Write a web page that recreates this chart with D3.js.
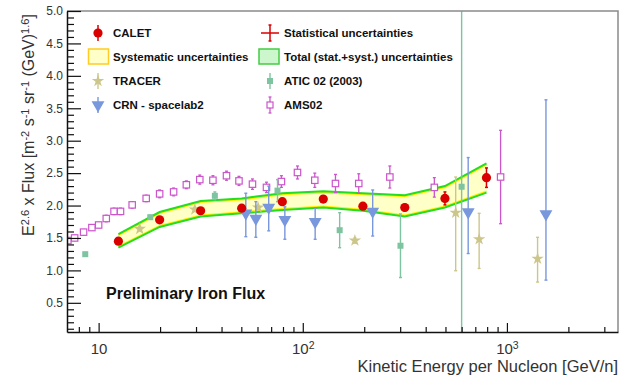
<!DOCTYPE html>
<html><head><meta charset="utf-8">
<script src="https://cdn.jsdelivr.net/npm/d3@7"></script>
<style>
body{margin:0;background:#fff;}
svg{display:block;font-family:"Liberation Sans",Arial,Helvetica,sans-serif;}
</style></head><body>
<svg id="chart" width="630" height="376"></svg>
<script>
// E^2.6 x Flux for iron, kinetic energy per nucleon in GeV/n

// CALET
const caletE  = [12.5, 19.9, 31.6, 50.2, 79.4, 126, 197, 316, 497, 794];
const caletF  = [1.45, 1.78, 1.92, 1.96, 2.06, 2.10, 1.99, 1.97, 2.11, 2.43];
const caletLo = [1.43, 1.76, 1.90, 1.93, 2.03, 2.06, 1.95, 1.92, 2.01, 2.28];
const caletHi = [1.47, 1.80, 1.94, 1.99, 2.09, 2.14, 2.03, 2.02, 2.21, 2.58];

// CALET uncertainty bands (total and systematic)
const totUp = [1.56, 1.90, 2.07, 2.11, 2.19, 2.22, 2.19, 2.16, 2.30, 2.65];
const totLo = [1.35, 1.67, 1.83, 1.88, 1.93, 1.97, 1.92, 1.83, 1.97, 2.20];
const sysUp = [1.54, 1.88, 2.05, 2.09, 2.17, 2.20, 2.17, 2.14, 2.28, 2.63];
const sysLo = [1.37, 1.69, 1.85, 1.90, 1.95, 1.99, 1.94, 1.85, 1.99, 2.22];

// AMS02
const amsE  = [7.07, 7.63, 8.44, 9.27, 10.0, 10.9, 11.9, 12.8, 14.6, 17.1, 19.9, 23.3, 26.9, 31.3,
               36.3, 42.3, 48.7, 56.7, 66.4, 78.6, 94.2, 114.5, 144.6, 188, 267, 441, 931];
const amsF  = [1.46, 1.50, 1.59, 1.66, 1.70, 1.80, 1.91, 1.91, 2.01, 2.11, 2.18, 2.21, 2.32, 2.40,
               2.39, 2.46, 2.38, 2.33, 2.28, 2.37, 2.51, 2.39, 2.34, 2.34, 2.44, 2.28, 2.44];
const amsErr = [0.04, 0.04, 0.04, 0.04, 0.04, 0.05, 0.05, 0.05, 0.05, 0.05, 0.06, 0.06, 0.06, 0.07,
                0.07, 0.07, 0.07, 0.08, 0.08, 0.09, 0.10, 0.11, 0.14, 0.15, 0.17, 0.15, 0.72];

// ATIC 02 (2003)
const aticE  = [8.6, 17.9, 37.1, 75.2, 151.6, 301, 600];
const aticF  = [1.25, 1.82, 2.15, 2.23, 1.62, 1.38, 2.29];
const aticLo = [1.23, 1.79, 2.09, 2.06, 1.35, 0.89, -5];
const aticHi = [1.27, 1.85, 2.21, 2.40, 1.89, 1.87, 9];

// TRACER
const tracerE  = [15.9, 29.6, 60.4, 180, 561, 731, 1413];
const tracerF  = [1.64, 1.94, 1.97, 1.46, 1.89, 1.48, 1.18];
const tracerLo = [1.61, 1.91, 1.94, 1.42, 0.995, 1.03, 0.82];
const tracerHi = [1.67, 1.97, 2.00, 1.50, 2.44, 1.88, 1.51];

// CRN - spacelab2
const crnE  = [52.6, 58.9, 68.1, 81.7, 115, 220, 646, 1553];
const crnF  = [1.88, 1.80, 1.97, 1.78, 1.75, 1.91, 1.90, 1.87];
const crnLo = [1.52, 1.51, 1.61, 1.48, 1.48, 1.53, 1.26, 0.85];
const crnHi = [2.19, 2.06, 2.30, 1.98, 1.96, 2.24, 2.74, 3.63];

// Axis ticks
const xMajor = [10, 100, 1000];
const xMinor = [8, 9, 20, 30, 40, 50, 60, 70, 80, 90, 200, 300, 400, 500, 600, 700, 800, 900, 2000, 3000];
const yMajor = [0.5, 1.0, 1.5, 2.0, 2.5, 3.0, 3.5, 4.0, 4.5, 5.0];
const yMinor = d3.range(1, 50).map(i => i / 10).filter(v => Math.round(v * 10) % 5 !== 0);

const C = {
  calet: "#d80000", sysFill: "#ffffc8", sysLine: "#ffee00", totLine: "#22dd22", totFill: "#ccf7cc",
  ams: "#cc55cc", atic: "#7fc4a0", tracer: "#cdc68a", crn: "#7897dc", text: "#222", tick: "#333"
};

const svg = d3.select("#chart");
const L = 67, R = 618, T = 11, B = 332;
const x = d3.scaleLog().domain([7, 3500]).range([L, R]);
const y = d3.scaleLinear().domain([0.05, 5.0]).range([B, T]);

svg.append("defs").append("clipPath").attr("id", "plotclip")
  .append("rect").attr("x", L).attr("y", T).attr("width", R - L).attr("height", B - T);
const plot = svg.append("g").attr("clip-path", "url(#plotclip)");

// Bands
const bandArea = (up, lo) => d3.area().x((d, i) => x(caletE[i])).y0((d, i) => y(lo[i])).y1((d, i) => y(up[i]));
const bandLine = arr => d3.line().x((d, i) => x(caletE[i])).y((d, i) => y(arr[i]));
plot.append("path").attr("d", bandArea(totUp, totLo)(caletE)).attr("fill", C.totFill);
plot.append("path").attr("d", bandArea(sysUp, sysLo)(caletE)).attr("fill", C.sysFill);
[sysUp, sysLo].forEach(a => plot.append("path").attr("d", bandLine(a)(caletE))
  .attr("fill", "none").attr("stroke", C.sysLine).attr("stroke-width", 1.6));
[totUp, totLo].forEach(a => plot.append("path").attr("d", bandLine(a)(caletE))
  .attr("fill", "none").attr("stroke", C.totLine).attr("stroke-width", 2));

// Error bars with small end caps
function errBars(g, E, lo, hi, color, cap, w) {
  E.forEach((e, i) => {
    const cx = x(e);
    g.append("line").attr("x1", cx).attr("x2", cx).attr("y1", y(lo[i])).attr("y2", y(hi[i]))
      .attr("stroke", color).attr("stroke-width", w);
    [lo[i], hi[i]].forEach(v => g.append("line").attr("x1", cx - cap).attr("x2", cx + cap)
      .attr("y1", y(v)).attr("y2", y(v)).attr("stroke", color).attr("stroke-width", w));
  });
}

const star = d3.symbol().type(d3.symbolStar).size(48);
const tri = d3.symbol().type(d3.symbolTriangle).size(72);

// AMS02
errBars(plot, amsE, amsE.map((e, i) => amsF[i] - amsErr[i]), amsE.map((e, i) => amsF[i] + amsErr[i]), C.ams, 1.5, 1.3);
amsE.forEach((e, i) => plot.append("rect").attr("x", x(e) - 3.2).attr("y", y(amsF[i]) - 3.2)
  .attr("width", 6.4).attr("height", 6.4).attr("fill", "#fff").attr("stroke", C.ams).attr("stroke-width", 1.2));

// TRACER
errBars(plot, tracerE, tracerLo, tracerHi, C.tracer, 1.5, 1.4);
tracerE.forEach((e, i) => plot.append("path").attr("d", star())
  .attr("transform", `translate(${x(e)},${y(tracerF[i])})`).attr("fill", C.tracer));

// CRN
errBars(plot, crnE, crnLo, crnHi, C.crn, 1.5, 1.4);
crnE.forEach((e, i) => plot.append("path").attr("d", tri())
  .attr("transform", `translate(${x(e)},${y(crnF[i])}) rotate(180)`).attr("fill", C.crn));

// ATIC
errBars(plot, aticE, aticLo, aticHi, C.atic, 1.5, 1.4);
aticE.forEach((e, i) => plot.append("rect").attr("x", x(e) - 3).attr("y", y(aticF[i]) - 3)
  .attr("width", 6).attr("height", 6).attr("fill", C.atic));

// CALET
errBars(plot, caletE, caletLo, caletHi, C.calet, 1.5, 1.5);
caletE.forEach((e, i) => plot.append("circle").attr("cx", x(e)).attr("cy", y(caletF[i]))
  .attr("r", 4.6).attr("fill", C.calet));

// Frame
svg.append("path").attr("d", `M${L},${T}H${R}V${B}`).attr("fill", "none")
  .attr("stroke", "#8a8a8a").attr("stroke-width", 1.5);

// Y axis
const yAx = svg.append("g").attr("transform", `translate(${L},0)`)
  .call(d3.axisLeft(y).tickValues(yMajor).tickFormat(d3.format(".1f")).tickSizeInner(-14).tickSizeOuter(0).tickPadding(4));
svg.append("g").attr("transform", `translate(${L},0)`)
  .call(d3.axisLeft(y).tickValues(yMinor).tickFormat("").tickSizeInner(-7).tickSizeOuter(0))
  .call(g => g.select(".domain").remove());

// X axis
const xAx = svg.append("g").attr("transform", `translate(0,${B})`)
  .call(d3.axisBottom(x).tickValues(xMajor).tickFormat(() => "10").tickSizeInner(-9).tickSizeOuter(0).tickPadding(11.5));
svg.append("g").attr("transform", `translate(0,${B})`)
  .call(d3.axisBottom(x).tickValues(xMinor).tickFormat("").tickSizeInner(-5).tickSizeOuter(0))
  .call(g => g.select(".domain").remove());

svg.selectAll(".tick line").attr("stroke", "#111").attr("stroke-width", 1.2);
svg.selectAll(".domain").attr("stroke", "#111").attr("stroke-width", 1.5);
yAx.selectAll("text").attr("font-size", 12).attr("fill", C.tick).attr("font-family", null);
xAx.selectAll("text").attr("font-size", 15).attr("fill", C.tick).attr("font-family", null)
  .each(function (d) {
    const exp = Math.round(Math.log10(d));
    if (exp > 1) d3.select(this).append("tspan").attr("dy", "-0.45em").attr("font-size", 10.5).text(exp);
  });

// Axis titles
svg.append("text").attr("x", R).attr("y", 372).attr("text-anchor", "end")
  .attr("font-size", 16.5).attr("fill", C.tick).text("Kinetic Energy per Nucleon [GeV/n]");

const yt = svg.append("text").attr("transform", "translate(34,125) rotate(-90)")
  .attr("text-anchor", "middle").attr("font-size", 16).attr("fill", C.tick);
const parts = [["E", 0], ["2.6", 1], [" x Flux [m", 0], ["-2", 1], [" s", 0], ["-1", 1],
               [" sr", 0], ["-1", 1], [" (GeV)", 0], ["1.6", 1], ["]", 0]];
parts.forEach(([t, sup], i) => {
  const prev = i > 0 ? parts[i - 1][1] : 0;
  const sp = yt.append("tspan").text(t);
  if (sup) sp.attr("dy", "-0.45em").attr("font-size", 11);
  else if (prev) sp.attr("dy", "0.31em");
});

// Legend
const lg = svg.append("g").attr("font-size", 11.5).attr("font-weight", "bold").attr("fill", "#111");
const rows = [33, 57, 81, 105];
const lx = 98, rx = 270, ltx = 113, rtx = 284;
// CALET
lg.append("line").attr("x1", lx).attr("x2", lx).attr("y1", rows[0] - 8).attr("y2", rows[0] + 8).attr("stroke", C.calet).attr("stroke-width", 1.5);
lg.append("circle").attr("cx", lx).attr("cy", rows[0]).attr("r", 4.6).attr("fill", C.calet);
lg.append("text").attr("x", ltx).attr("y", rows[0] + 4).text("CALET");
// Statistical uncertainties
lg.append("line").attr("x1", rx - 9).attr("x2", rx + 9).attr("y1", rows[0]).attr("y2", rows[0]).attr("stroke", C.calet).attr("stroke-width", 1.5);
lg.append("line").attr("x1", rx).attr("x2", rx).attr("y1", rows[0] - 8).attr("y2", rows[0] + 8).attr("stroke", C.calet).attr("stroke-width", 1.5);
[rows[0] - 8, rows[0] + 8].forEach(v => lg.append("line").attr("x1", rx - 1.5).attr("x2", rx + 1.5).attr("y1", v).attr("y2", v).attr("stroke", C.calet).attr("stroke-width", 1.5));
lg.append("text").attr("x", rtx).attr("y", rows[0] + 4).text("Statistical uncertainties");
// Systematic
lg.append("rect").attr("x", 88.5).attr("y", rows[1] - 8).attr("width", 20).attr("height", 15)
  .attr("fill", C.sysFill).attr("stroke", "#ffcc22").attr("stroke-width", 1.5);
lg.append("text").attr("x", ltx).attr("y", rows[1] + 4).text("Systematic uncertainties");
// Total
lg.append("rect").attr("x", 259).attr("y", rows[1] - 8).attr("width", 20).attr("height", 15)
  .attr("fill", C.totFill).attr("stroke", "#44cc44").attr("stroke-width", 1.5);
lg.append("text").attr("x", rtx).attr("y", rows[1] + 4).text("Total (stat.+syst.) uncertainties");
// TRACER
lg.append("line").attr("x1", lx).attr("x2", lx).attr("y1", rows[2] - 8).attr("y2", rows[2] + 8).attr("stroke", C.tracer).attr("stroke-width", 1.4);
lg.append("path").attr("d", star()).attr("transform", `translate(${lx},${rows[2]})`).attr("fill", C.tracer);
lg.append("text").attr("x", ltx).attr("y", rows[2] + 4).text("TRACER");
// ATIC
lg.append("line").attr("x1", rx).attr("x2", rx).attr("y1", rows[2] - 8).attr("y2", rows[2] + 8).attr("stroke", C.atic).attr("stroke-width", 1.4);
lg.append("rect").attr("x", rx - 3).attr("y", rows[2] - 3).attr("width", 6).attr("height", 6).attr("fill", C.atic);
lg.append("text").attr("x", rtx).attr("y", rows[2] + 4).text("ATIC 02 (2003)");
// CRN
lg.append("line").attr("x1", lx).attr("x2", lx).attr("y1", rows[3] - 8).attr("y2", rows[3] + 8).attr("stroke", C.crn).attr("stroke-width", 1.4);
lg.append("path").attr("d", tri()).attr("transform", `translate(${lx},${rows[3]}) rotate(180)`).attr("fill", C.crn);
lg.append("text").attr("x", ltx).attr("y", rows[3] + 4).text("CRN - spacelab2");
// AMS02
lg.append("line").attr("x1", rx).attr("x2", rx).attr("y1", rows[3] - 8).attr("y2", rows[3] + 8).attr("stroke", C.ams).attr("stroke-width", 1.3);
[rows[3] - 8, rows[3] + 8].forEach(v => lg.append("line").attr("x1", rx - 1.5).attr("x2", rx + 1.5).attr("y1", v).attr("y2", v).attr("stroke", C.ams).attr("stroke-width", 1.3));
lg.append("rect").attr("x", rx - 3).attr("y", rows[3] - 3).attr("width", 6).attr("height", 6)
  .attr("fill", "#fff").attr("stroke", C.ams).attr("stroke-width", 1.2);
lg.append("text").attr("x", rtx).attr("y", rows[3] + 4).text("AMS02");

// Annotation
svg.append("text").attr("x", 106).attr("y", 299).attr("font-size", 16).attr("font-weight", "bold")
  .attr("fill", "#111").text("Preliminary Iron Flux");
</script>
</body></html>
